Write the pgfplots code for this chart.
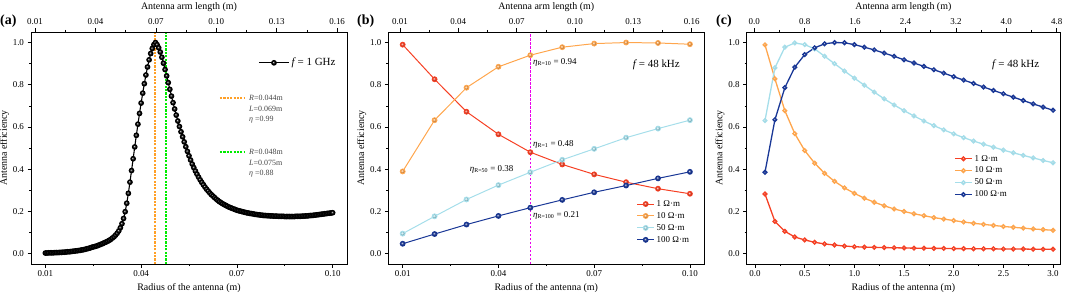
\documentclass[border=0pt]{standalone}
\usepackage{fontspec}
\setmainfont{Liberation Serif}
\usepackage{pgfplots}
\pgfplotsset{compat=1.18}
\usepackage{pgfplotstable}

\definecolor{cR}{RGB}{246,64,36}
\definecolor{cO}{RGB}{255,166,77}
\definecolor{cL}{RGB}{165,222,234}
\definecolor{cB}{RGB}{25,55,150}
\definecolor{cOr}{RGB}{255,160,40}
\definecolor{cGr}{RGB}{0,235,0}
\definecolor{cM}{RGB}{235,0,235}
\definecolor{annot}{RGB}{70,70,70}

\newcommand\tk{\fontsize{9}{10}\selectfont}
\newcommand\lb{\fontsize{10}{11}\selectfont}
\newcommand\fl{\fontsize{11}{12}\selectfont}
\newcommand\an{\fontsize{8}{9}\selectfont}
\newcommand\bn{\fontsize{9}{10}\selectfont}

\pgfplotsset{
 base/.style={scale only axis, width=316bp, height=232bp, ymin=-0.05, ymax=1.05,
   tick align=outside, major tick length=3.5bp, minor tick length=2bp,
   tick label style={font=\tk},
   label style={font=\lb},
   /pgf/number format/assume math mode=true,
   axis line style={line width=0.7pt},
   every tick/.style={black,line width=0.6pt}},
 mainax/.style={base, xtick pos=lower, ytick pos=left,
   ytick={0,0.2,0.4,0.6,0.8,1.0}, minor y tick num=1, minor x tick num=1,
   y tick label style={/pgf/number format/.cd,fixed,fixed zerofill,precision=1,/tikz/.cd},
   ylabel={Antenna efficiency}, xlabel={Radius of the antenna (m)},
   ylabel shift=-3bp},
 topax/.style={base, axis x line*=top, axis y line=none, minor x tick num=1,
   xlabel={Antenna arm length (m)}},
 sR/.style={cR, line width=1pt, mark=ball, mark options={ball color=cR}},
 sO/.style={cO, line width=1pt, mark=ball, mark options={ball color=cO}},
 sL/.style={cL, line width=1pt, mark=ball, mark options={ball color=cL}},
 sB/.style={cB, line width=1pt, mark=ball, mark options={ball color=cB}},
}

\pgfplotstableread{
R eta
0.0100 0.002
0.0105 0.002
0.0110 0.003
0.0115 0.003
0.0120 0.003
0.0125 0.003
0.0130 0.004
0.0135 0.004
0.0140 0.004
0.0145 0.005
0.0150 0.005
0.0155 0.006
0.0160 0.006
0.0165 0.007
0.0170 0.008
0.0175 0.008
0.0180 0.009
0.0185 0.010
0.0190 0.011
0.0195 0.012
0.0200 0.013
0.0205 0.014
0.0210 0.015
0.0215 0.017
0.0220 0.018
0.0225 0.020
0.0230 0.022
0.0235 0.024
0.0240 0.026
0.0245 0.029
0.0250 0.031
0.0255 0.033
0.0260 0.035
0.0265 0.038
0.0270 0.041
0.0275 0.044
0.0280 0.047
0.0285 0.051
0.0290 0.054
0.0295 0.058
0.0300 0.062
0.0305 0.067
0.0310 0.073
0.0315 0.079
0.0320 0.087
0.0325 0.096
0.0330 0.107
0.0335 0.122
0.0340 0.141
0.0345 0.166
0.0350 0.198
0.0355 0.238
0.0360 0.285
0.0365 0.338
0.0370 0.393
0.0375 0.449
0.0380 0.505
0.0385 0.560
0.0390 0.613
0.0395 0.664
0.0400 0.713
0.0405 0.760
0.0410 0.805
0.0415 0.846
0.0420 0.884
0.0425 0.918
0.0430 0.948
0.0435 0.972
0.0440 0.990
0.0445 1.000
0.0450 0.990
0.0455 0.975
0.0460 0.955
0.0465 0.930
0.0470 0.902
0.0475 0.872
0.0480 0.842
0.0485 0.810
0.0490 0.778
0.0495 0.746
0.0500 0.715
0.0505 0.685
0.0510 0.656
0.0515 0.628
0.0520 0.602
0.0525 0.577
0.0530 0.553
0.0535 0.529
0.0540 0.506
0.0545 0.484
0.0550 0.463
0.0555 0.443
0.0560 0.424
0.0565 0.407
0.0570 0.391
0.0575 0.376
0.0580 0.362
0.0585 0.349
0.0590 0.337
0.0595 0.326
0.0600 0.315
0.0605 0.305
0.0610 0.296
0.0615 0.287
0.0620 0.279
0.0625 0.272
0.0630 0.265
0.0635 0.258
0.0640 0.252
0.0645 0.246
0.0650 0.241
0.0655 0.236
0.0660 0.232
0.0665 0.228
0.0670 0.224
0.0675 0.220
0.0680 0.217
0.0685 0.214
0.0690 0.211
0.0695 0.208
0.0700 0.205
0.0705 0.203
0.0710 0.201
0.0715 0.199
0.0720 0.197
0.0725 0.195
0.0730 0.193
0.0735 0.192
0.0740 0.190
0.0745 0.189
0.0750 0.188
0.0755 0.186
0.0760 0.185
0.0765 0.184
0.0770 0.183
0.0775 0.182
0.0780 0.181
0.0785 0.180
0.0790 0.180
0.0795 0.179
0.0800 0.179
0.0805 0.178
0.0810 0.178
0.0815 0.177
0.0820 0.177
0.0825 0.177
0.0830 0.176
0.0835 0.176
0.0840 0.176
0.0845 0.176
0.0850 0.175
0.0855 0.175
0.0860 0.175
0.0865 0.175
0.0870 0.175
0.0875 0.175
0.0880 0.175
0.0885 0.176
0.0890 0.176
0.0895 0.176
0.0900 0.176
0.0905 0.177
0.0910 0.177
0.0915 0.178
0.0920 0.178
0.0925 0.179
0.0930 0.180
0.0935 0.180
0.0940 0.181
0.0945 0.182
0.0950 0.183
0.0955 0.184
0.0960 0.185
0.0965 0.186
0.0970 0.187
0.0975 0.188
0.0980 0.189
0.0985 0.190
0.0990 0.191
0.0995 0.192
0.1000 0.193
}\dataA

\pgfplotstableread{
R r1 r10 r50 r100
0.01 0.990 0.389 0.094 0.046
0.02 0.826 0.632 0.176 0.092
0.03 0.672 0.786 0.256 0.137
0.04 0.565 0.885 0.324 0.178
0.05 0.480 0.940 0.385 0.217
0.06 0.422 0.978 0.444 0.254
0.07 0.375 0.995 0.496 0.290
0.08 0.338 1.000 0.549 0.322
0.09 0.307 0.998 0.592 0.356
0.10 0.283 0.992 0.632 0.387
}\dataB

\pgfplotstableread{
R r1 r10 r50 r100
0.1 0.282 0.989 0.630 0.385
0.2 0.152 0.828 0.880 0.634
0.3 0.105 0.677 0.978 0.786
0.4 0.078 0.568 0.998 0.883
0.5 0.064 0.488 0.990 0.943
0.6 0.053 0.428 0.970 0.975
0.7 0.045 0.380 0.935 0.994
0.8 0.040 0.342 0.900 1.000
0.9 0.035 0.311 0.865 0.999
1.0 0.032 0.285 0.831 0.990
1.1 0.030 0.262 0.798 0.978
1.2 0.029 0.243 0.765 0.965
1.3 0.028 0.226 0.733 0.950
1.4 0.027 0.211 0.704 0.935
1.5 0.026 0.199 0.677 0.918
1.6 0.025 0.188 0.652 0.903
1.7 0.025 0.179 0.628 0.887
1.8 0.024 0.170 0.606 0.871
1.9 0.024 0.163 0.586 0.855
2.0 0.023 0.156 0.567 0.838
2.1 0.023 0.149 0.549 0.822
2.2 0.022 0.143 0.533 0.806
2.3 0.022 0.138 0.518 0.789
2.4 0.022 0.133 0.504 0.773
2.5 0.021 0.128 0.490 0.757
2.6 0.021 0.124 0.477 0.741
2.7 0.021 0.120 0.465 0.725
2.8 0.020 0.116 0.453 0.709
2.9 0.020 0.113 0.441 0.694
3.0 0.020 0.110 0.430 0.679
}\dataC

\begin{document}
\begin{tikzpicture}
\useasboundingbox (0bp,0bp) rectangle (1065bp,298bp);

% ---------------- (a) ----------------
\begin{axis}[mainax, at={(31bp,34bp)}, anchor=south west,
  xmin=0.0055, xmax=0.1045, xtick={0.01,0.04,0.07,0.10},
  x tick label style={/pgf/number format/.cd,fixed,fixed zerofill,precision=2,/tikz/.cd},
  legend style={draw=none, fill=none, at={(0.98,0.905)}, anchor=north east, font=\fl},
  legend image code/.code={\draw[#1,mark repeat=2,mark phase=2] plot coordinates {(0cm,0cm) (0.53cm,0cm) (1.06cm,0cm)};}]
\addplot[black, line width=1.1pt, mark=ball, mark size=2.3pt, mark options={ball color=black}] table[x=R,y=eta] {\dataA};
\addlegendentry{\textit{f}\,= 1 GHz}
\draw[color=cOr, line width=1.8bp, dash pattern=on 2.2pt off 1.2pt] (axis cs:0.0444,-0.05) -- (axis cs:0.0444,1.05);
\draw[color=cGr, line width=2bp, dash pattern=on 2.2pt off 1.2pt] (axis cs:0.04779,-0.05) -- (axis cs:0.04779,1.05);
\draw[cOr, line width=1.3pt, dash pattern=on 2.2pt off 1.2pt] (rel axis cs:0.598,0.716) -- (rel axis cs:0.677,0.716);
\node[anchor=west, font=\an, text=annot, inner sep=0pt] at (rel axis cs:0.69,0.716) {\textit{R}=0.044m};
\node[anchor=west, font=\an, text=annot, inner sep=0pt] at (rel axis cs:0.69,0.668) {\textit{L}=0.069m};
\node[anchor=west, font=\an, text=annot, inner sep=0pt] at (rel axis cs:0.69,0.621) {\textit{η} =0.99};
\draw[cGr, line width=1.3pt, dash pattern=on 2.2pt off 1.2pt] (rel axis cs:0.598,0.483) -- (rel axis cs:0.677,0.483);
\node[anchor=west, font=\an, text=annot, inner sep=0pt] at (rel axis cs:0.69,0.483) {\textit{R}=0.048m};
\node[anchor=west, font=\an, text=annot, inner sep=0pt] at (rel axis cs:0.69,0.435) {\textit{L}=0.075m};
\node[anchor=west, font=\an, text=annot, inner sep=0pt] at (rel axis cs:0.69,0.388) {\textit{η} =0.88};
\end{axis}
\begin{axis}[topax, at={(31bp,34bp)}, anchor=south west,
  xmin=0.008, xmax=0.1649, xtick={0.01,0.04,0.07,0.10,0.13,0.16},
  x tick label style={/pgf/number format/.cd,fixed,fixed zerofill,precision=2,/tikz/.cd}]
\end{axis}

% ---------------- (b) ----------------
\begin{axis}[mainax, at={(388.3bp,34bp)}, anchor=south west,
  xmin=0.0055, xmax=0.1045, xtick={0.01,0.04,0.07,0.10},
  x tick label style={/pgf/number format/.cd,fixed,fixed zerofill,precision=2,/tikz/.cd},
  legend style={draw=none, fill=none, at={(0.968,0.07)}, anchor=south east, font=\tk, row sep=0.5pt},
  legend cell align=left]
\addplot[draw=cM, mark=none, line width=1pt, dash pattern=on 2.5pt off 1.5pt, forget plot] coordinates {(0.05,-0.05) (0.05,1.05)};
\addplot[sR, mark size=2.4pt] table[x=R,y=r1] {\dataB};
\addlegendentry{1 Ω·m}
\addplot[sO, mark size=2.4pt] table[x=R,y=r10] {\dataB};
\addlegendentry{10 Ω·m}
\addplot[sL, mark size=2.4pt] table[x=R,y=r50] {\dataB};
\addlegendentry{50 Ω·m}
\addplot[sB, mark size=2.4pt] table[x=R,y=r100] {\dataB};
\addlegendentry{100 Ω·m}
\node[anchor=west, font=\bn, inner sep=0pt] at (axis cs:0.0508,0.906) {\textit{η}\textsubscript{R=10} = 0.94};
\node[anchor=west, font=\bn, inner sep=0pt] at (axis cs:0.0508,0.519) {\textit{η}\textsubscript{R=1} = 0.48};
\node[anchor=west, font=\bn, inner sep=0pt] at (axis cs:0.031,0.40) {\textit{η}\textsubscript{R=50} = 0.38};
\node[anchor=west, font=\bn, inner sep=0pt] at (axis cs:0.0508,0.181) {\textit{η}\textsubscript{R=100} = 0.21};
\node[anchor=west, font=\fl, inner sep=0pt] at (rel axis cs:0.773,0.86) {\textit{f}\,= 48 kHz};
\end{axis}
\begin{axis}[topax, at={(388.3bp,34bp)}, anchor=south west,
  xmin=0.004, xmax=0.1665, xtick={0.01,0.04,0.07,0.10,0.13,0.16},
  x tick label style={/pgf/number format/.cd,fixed,fixed zerofill,precision=2,/tikz/.cd}]
\end{axis}

% ---------------- (c) ----------------
\begin{axis}[mainax, width=313.3bp, at={(746.7bp,34bp)}, anchor=south west,
  xmin=-0.084, xmax=3.07, xtick={0,0.5,1.0,1.5,2.0,2.5,3.0},
  x tick label style={/pgf/number format/.cd,fixed,fixed zerofill,precision=1,/tikz/.cd},
  legend style={draw=none, fill=none, at={(0.847,0.265)}, anchor=south east, font=\tk, row sep=0.5pt},
  legend cell align=left]
\addplot[sR, line width=1.3pt, mark size=1.9pt] table[x=R,y=r1] {\dataC};
\addlegendentry{1 Ω·m}
\addplot[sO, line width=1.3pt, mark size=1.9pt] table[x=R,y=r10] {\dataC};
\addlegendentry{10 Ω·m}
\addplot[sL, line width=1.3pt, mark size=1.9pt] table[x=R,y=r50] {\dataC};
\addlegendentry{50 Ω·m}
\addplot[sB, line width=1.3pt, mark size=1.9pt] table[x=R,y=r100] {\dataC};
\addlegendentry{100 Ω·m}
\node[anchor=west, font=\fl, inner sep=0pt] at (rel axis cs:0.783,0.86) {\textit{f}\,= 48 kHz};
\end{axis}
\begin{axis}[topax, width=313.3bp, at={(746.7bp,34bp)}, anchor=south west,
  xmin=-0.12, xmax=4.852, xtick={0,0.8,1.6,2.4,3.2,4.0,4.8},
  x tick label style={/pgf/number format/.cd,fixed,fixed zerofill,precision=1,/tikz/.cd}]
\end{axis}

\node[anchor=west, font=\fontsize{14}{15}\selectfont\bfseries, inner sep=0pt] at (0bp,277bp) {(a)};
\node[anchor=west, font=\fontsize{14}{15}\selectfont\bfseries, inner sep=0pt] at (357bp,277bp) {(b)};
\node[anchor=west, font=\fontsize{14}{15}\selectfont\bfseries, inner sep=0pt] at (716bp,277bp) {(c)};
\end{tikzpicture}
\end{document}
